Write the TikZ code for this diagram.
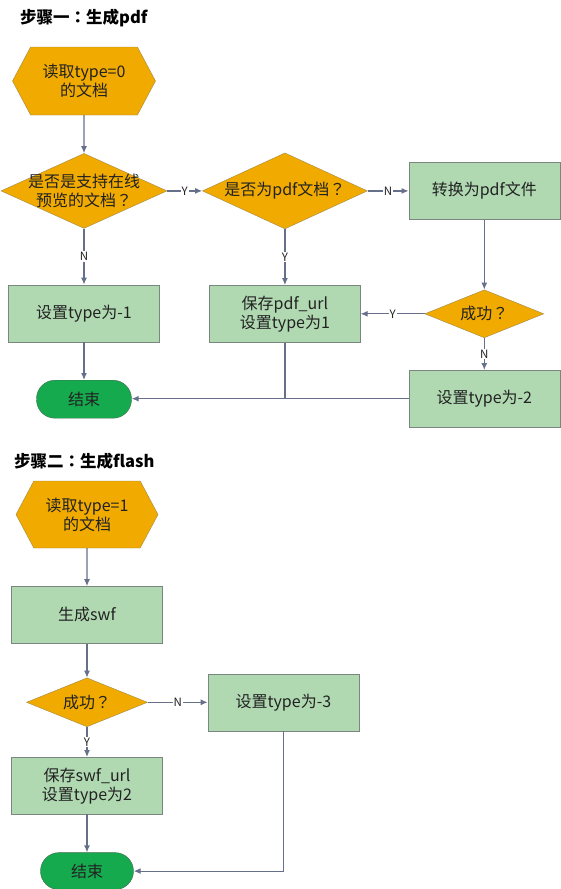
\documentclass[tikz,border=0pt]{standalone}
\usepackage{fontspec}
\setmainfont{Noto Sans CJK SC}
\newfontfamily\jpmark{Noto Sans CJK JP}
\usepackage{tikz}
\usetikzlibrary{positioning, arrows.meta, shapes.geometric, shapes.symbols}
\definecolor{flow-orange}{HTML}{F0AA00}
\definecolor{flow-orange-line}{HTML}{A08A4A}
\definecolor{flow-green}{HTML}{B0D9B2}
\definecolor{flow-green-line}{HTML}{7A8780}
\definecolor{flow-end}{HTML}{16AA4E}
\definecolor{flow-end-line}{HTML}{3E6A4C}
\definecolor{flow-arrow}{HTML}{67708A}
\definecolor{flow-text}{HTML}{222222}
\tikzset{
	proc/.style={rectangle, draw=flow-green-line, fill=flow-green, minimum width=151pt, minimum height=57pt, inner sep=0pt, align=center, text=flow-text, font=\fontsize{16}{19}\selectfont},
	cond/.style={diamond, draw=flow-orange-line, fill=flow-orange, aspect=2.2, inner xsep=-14pt, inner ysep=0pt, align=center, text=flow-text, font=\fontsize{16}{19}\selectfont},
	readdoc/.style={signal, signal to=west and east, signal pointer angle=124, draw=flow-orange-line, fill=flow-orange, minimum width=143pt, minimum height=68pt, inner sep=0pt, align=center, text=flow-text, font=\fontsize{16}{19}\selectfont},
	stop/.style={rectangle, rounded corners=18.5pt, draw=flow-end-line, fill=flow-end, minimum width=95pt, minimum height=38pt, text=flow-text, font=\fontsize{16}{19}\selectfont},
	yn/.style={fill=white, inner sep=1pt, font=\fontsize{11.5}{11.5}\selectfont, text=flow-text},
	title/.style={anchor=west, inner sep=0pt, font=\fontsize{16.5}{16.5}\selectfont\bfseries}
}

\begin{document}
\begin{tikzpicture}[x=1pt, y=-1pt, >={Latex[length=7pt, width=6pt]}, every edge/.style={draw, flow-arrow, line width=1.2pt}]
	\useasboundingbox (0,0) rectangle (560,889);
	% step one
	\node[title] (title1) at (20,18) {步骤一{\jpmark ：}生成pdf};
	\node[readdoc] (read0) at (84,81) {读取type=0\\的文档};
	\node[cond, below=38pt of read0, minimum width=166pt, minimum height=75pt] (online) {是否是支持在线\\预览的文档{\jpmark ？}};
	\node[proc, below=56pt of online] (set1) {设置type为-1};
	\node[stop, below=38pt of set1] (end1) {结束};
	\node[cond, right=35pt of online, minimum width=165pt, minimum height=76pt] (ispdf) {是否为pdf文档{\jpmark ？}};
	\node[proc, right=41pt of ispdf] (topdf) {转换为pdf文件};
	\node[cond, below=70pt of topdf, minimum width=119pt, minimum height=48pt] (ok1) {成功{\jpmark ？}};
	\node[proc, below=56pt of ispdf] (savepdf) {保存pdf\_url\\设置type为1};
	\node[proc, below=32pt of ok1] (set2) {设置type为-2};
	\draw
	(read0) edge[->] (online)
	(online) edge[->] node[yn] {Y} (ispdf)
	(online) edge[->] node[yn] {N} (set1)
	(set1) edge[->] (end1)
	(ispdf) edge[->] node[yn] {N} (topdf)
	(ispdf) edge[->] node[yn] {Y} (savepdf)
	(topdf) edge[->] (ok1)
	(ok1) edge[->] node[yn] {Y} (savepdf)
	(ok1) edge[->] node[yn] {N} (set2)
	(set2.west) edge[->] (set2.west -| end1.east)
	(savepdf.south) edge[-] (savepdf.south |- end1.east);
	% step two
	\node[title] (title2) at (14,461) {步骤二{\jpmark ：}生成flash};
	\node[readdoc, minimum width=142pt, minimum height=67pt] (read1) at (87,514.5) {读取type=1\\的文档};
	\node[proc, below=38pt of read1] (swf) {生成swf};
	\node[cond, below=34pt of swf, minimum width=121pt, minimum height=49pt] (ok2) {成功{\jpmark ？}};
	\node[proc, right=60pt of ok2] (set3) {设置type为-3};
	\node[proc, below=30pt of ok2] (saveswf) {保存swf\_url\\设置type为2};
	\node[stop, below=38pt of saveswf, minimum width=93pt, minimum height=37pt] (end2) {结束};
	\draw
	(read1) edge[->] (swf)
	(swf) edge[->] (ok2)
	(ok2) edge[->] node[yn] {N} (set3)
	(ok2) edge[->] node[yn] {Y} (saveswf)
	(saveswf) edge[->] (end2);
	\draw[->, flow-arrow, line width=1.2pt] (set3.south) |- (end2.east);
\end{tikzpicture}
\end{document}
